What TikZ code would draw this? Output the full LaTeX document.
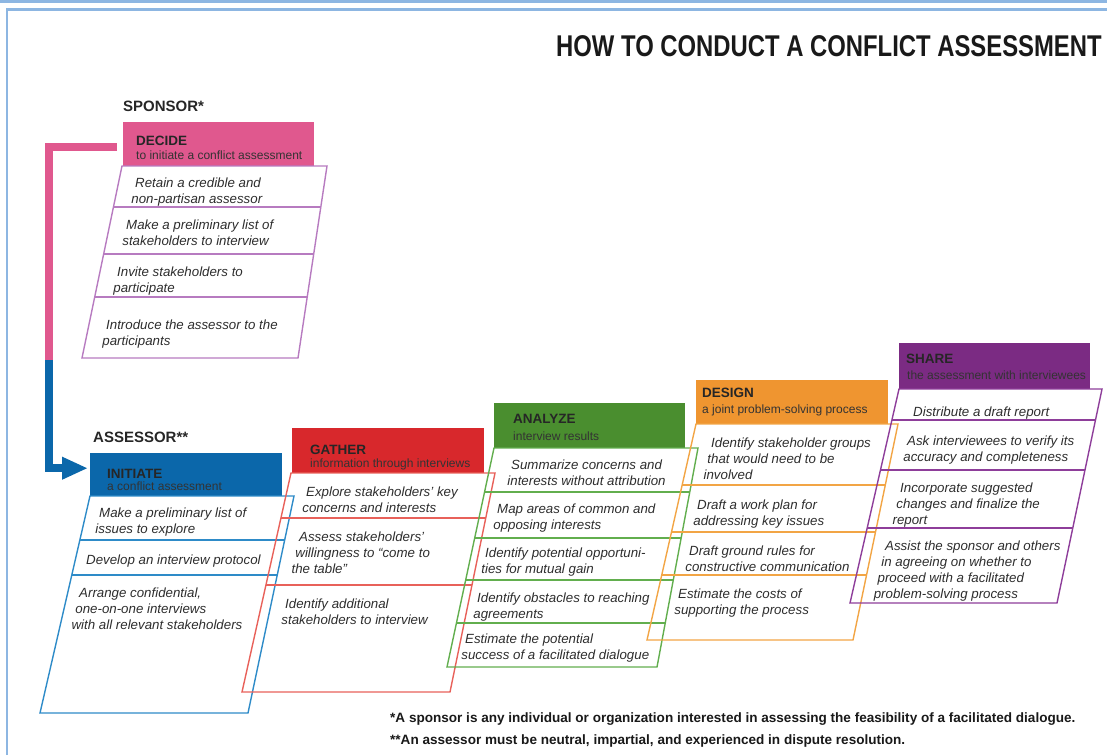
\documentclass[tikz,border=0pt]{standalone}
\usepackage{fontspec}
\setmainfont{Liberation Sans}
\usetikzlibrary{calc,arrows.meta}

\definecolor{framecol}{RGB}{141,182,226}
\definecolor{sponsorfill}{RGB}{224,88,142}
\definecolor{sponsorline}{RGB}{183,123,192}
\definecolor{initfill}{RGB}{11,103,170}
\definecolor{initline}{RGB}{46,139,200}
\definecolor{gatherfill}{RGB}{216,40,44}
\definecolor{gatherline}{RGB}{232,97,90}
\definecolor{analyzefill}{RGB}{74,142,47}
\definecolor{analyzeline}{RGB}{98,174,78}
\definecolor{designfill}{RGB}{239,149,48}
\definecolor{designline}{RGB}{242,165,69}
\definecolor{sharefill}{RGB}{123,43,131}
\definecolor{shareline}{RGB}{142,62,154}
\definecolor{itemgray}{RGB}{45,45,45}

% coloured step header: name, x1, y1, x2, y2, colour
\newcommand{\stephead}[6]{%
  \node[fill=#6, draw=none, inner sep=0pt, anchor=north west,
        minimum width={#4-#2}, minimum height={#5-#3}] (#1) at (#2,#3) {};}

% slanted list outline with its row dividers: prefix, colour, top y, bottom y, divider ys
\newcommand{\steplist}[5]{%
  \draw[listline, draw=#2] (#1-tl) -- (#1-tr) -- (#1-br) -- (#1-bl) -- cycle;
  \foreach \yy in {#5} {%
    \pgfmathsetmacro\divpos{(\yy-#3)/(#4-#3)}
    \draw[listline, draw=#2] ($(#1-tl)!\divpos!(#1-bl)$) -- ($(#1-tr)!\divpos!(#1-br)$);
  }}

% italic row text, each line shifted left along the slant: name, x, baseline y, lines
\newcommand{\itemlines}[4]{%
  \foreach \lineText [count=\idx] in {#4} {%
    \node[itm] (#1-\idx) at ({#2-3.8*(\idx-1)}, {#3+16*(\idx-1)}) {\lineText};
  }}

\begin{document}
\begin{tikzpicture}[x=1pt, y=-1pt,
  itm/.style={anchor=base west, inner sep=0pt, font=\fontsize{13.3}{16}\selectfont\itshape, text=itemgray},
  hdrtitle/.style={anchor=base west, inner sep=0pt, font=\fontsize{13.5}{16}\selectfont\bfseries, text=black!85},
  hdrsub/.style={anchor=base west, inner sep=0pt, font=\fontsize{12}{14}\selectfont, text=black!80},
  role/.style={anchor=base west, inner sep=0pt, font=\fontsize{15}{18}\selectfont\bfseries, text=black!85},
  note/.style={anchor=base west, inner sep=0pt, font=\fontsize{13.55}{16}\selectfont\bfseries, text=black!90},
  listline/.style={line width=1.4pt, line join=miter},
  framestroke/.style={draw=framecol, line width=2.2pt},
  conn/.style={line width=8pt, line join=miter}]

\useasboundingbox (0,0) rectangle (1107,755);

% page frame
\draw[framestroke] (0,1.5) -- (1107,1.5);
\draw[framestroke] (7,755) -- (7,9.5) -- (1107,9.5);

% title
\node[anchor=base west, inner sep=0pt, text=black!90] (title) at (556,56)
  {\scalebox{0.795}[1]{\fontsize{30}{30}\selectfont\bfseries HOW TO CONDUCT A CONFLICT ASSESSMENT}};

% role labels
\node[role] (sponsor) at (123,111) {SPONSOR*};
\node[role] (assessor) at (93,442) {ASSESSOR**};

% step headers
\stephead{decide}{123}{122}{314}{166}{sponsorfill}
\stephead{initiate}{90}{453}{282}{496}{initfill}
\stephead{gather}{292}{428}{484}{473}{gatherfill}
\stephead{analyze}{494}{403}{685}{448}{analyzefill}
\stephead{design}{696}{380}{888}{424}{designfill}
\stephead{share}{899}{343}{1090}{389}{sharefill}

\node[hdrtitle] (decide-t) at (136,145) {DECIDE};
\node[hdrsub] (decide-s) at (136,159) {to initiate a conflict assessment};
\node[hdrtitle] (initiate-t) at (107,478) {INITIATE};
\node[hdrsub] (initiate-s) at (107,490) {a conflict assessment};
\node[hdrtitle] (gather-t) at (310,454) {GATHER};
\node[hdrsub] (gather-s) at (310,467) {information through interviews};
\node[hdrtitle] (analyze-t) at (513,423) {ANALYZE};
\node[hdrsub] (analyze-s) at (513,440) {interview results};
\node[hdrtitle] (design-t) at (702,397) {DESIGN};
\node[hdrsub] (design-s) at (702,413) {a joint problem-solving process};
\node[hdrtitle] (share-t) at (906,363) {SHARE};
\node[hdrsub] (share-s) at (907,379) {the assessment with interviewees};

% list outlines
\coordinate (s-tl) at (122,166); \coordinate (s-tr) at (327,166);
\coordinate (s-bl) at (82,358);  \coordinate (s-br) at (298,358);
\steplist{s}{sponsorline}{166}{358}{207,254,297}

\coordinate (i-tl) at (90,496);  \coordinate (i-tr) at (294,496);
\coordinate (i-bl) at (40,713);  \coordinate (i-br) at (248,713);
\steplist{i}{initline}{496}{713}{540,575}

\coordinate (g-tl) at (291,473); \coordinate (g-tr) at (495,473);
\coordinate (g-bl) at (242,692); \coordinate (g-br) at (450,692);
\steplist{g}{gatherline}{473}{692}{518,585}

\coordinate (a-tl) at (494,448); \coordinate (a-tr) at (698,448);
\coordinate (a-bl) at (447,667); \coordinate (a-br) at (657,667);
\steplist{a}{analyzeline}{448}{667}{492,538,580,623}

\coordinate (d-tl) at (696,424); \coordinate (d-tr) at (898,424);
\coordinate (d-bl) at (647,640); \coordinate (d-br) at (853,640);
\steplist{d}{designline}{424}{640}{485,532,575}

\coordinate (h-tl) at (899,389); \coordinate (h-tr) at (1102,389);
\coordinate (h-bl) at (850,603); \coordinate (h-br) at (1057,603);
\steplist{h}{shareline}{389}{603}{420,470,528}

% sponsor tasks
\itemlines{s1}{135}{187}{Retain a credible and, non-partisan assessor}
\itemlines{s2}{126}{229}{Make a preliminary list of, stakeholders to interview}
\itemlines{s3}{117}{276}{Invite stakeholders to, participate}
\itemlines{s4}{106}{329}{Introduce the assessor to the, participants}

% initiate tasks
\itemlines{i1}{99}{517}{Make a preliminary list of, issues to explore}
\itemlines{i2}{86}{564}{Develop an interview protocol}
\itemlines{i3}{79}{597}{{Arrange confidential,}, one-on-one interviews, with all relevant stakeholders}

% gather tasks
\itemlines{g1}{306}{496}{Explore stakeholders' key, concerns and interests}
\itemlines{g2}{299}{541}{Assess stakeholders', willingness to “come to, the table”}
\itemlines{g3}{285}{608}{Identify additional, stakeholders to interview}

% analyze tasks
\itemlines{a1}{511}{469}{Summarize concerns and, interests without attribution}
\itemlines{a2}{497}{513}{Map areas of common and, opposing interests}
\itemlines{a3}{485}{557}{Identify potential opportuni-, ties for mutual gain}
\itemlines{a4}{477}{602}{Identify obstacles to reaching, agreements}
\itemlines{a5}{465}{643}{Estimate the potential, success of a facilitated dialogue}

% design tasks
\itemlines{d1}{711}{447}{Identify stakeholder groups, that would need to be, involved}
\itemlines{d2}{697}{509}{Draft a work plan for, addressing key issues}
\itemlines{d3}{689}{555}{Draft ground rules for, constructive communication}
\itemlines{d4}{678}{598}{Estimate the costs of, supporting the process}

% share tasks
\itemlines{h1}{913}{416}{Distribute a draft report}
\itemlines{h2}{907}{445}{Ask interviewees to verify its, accuracy and completeness}
\itemlines{h3}{900}{492}{Incorporate suggested, changes and finalize the, report}
\itemlines{h4}{885}{550}{Assist the sponsor and others, in agreeing on whether to, proceed with a facilitated, problem-solving process}

% hand-over connector from sponsor to assessor
\coordinate (handover) at (49,360);
\draw[conn, draw=sponsorfill] ([xshift=-6pt, yshift=-3pt]decide.west) -| (handover);
\draw[conn, draw=initfill, -{Triangle[length=26pt, width=21pt]}]
  (handover) |- ([xshift=-2pt, yshift=6.5pt]initiate.west);

% footnotes
\node[note] (note1) at (390,722) {*A sponsor is any individual or organization interested in assessing the feasibility of a facilitated dialogue.};
\node[note] (note2) at (390,744) {**An assessor must be neutral, impartial, and experienced in dispute resolution.};

\end{tikzpicture}
\end{document}
